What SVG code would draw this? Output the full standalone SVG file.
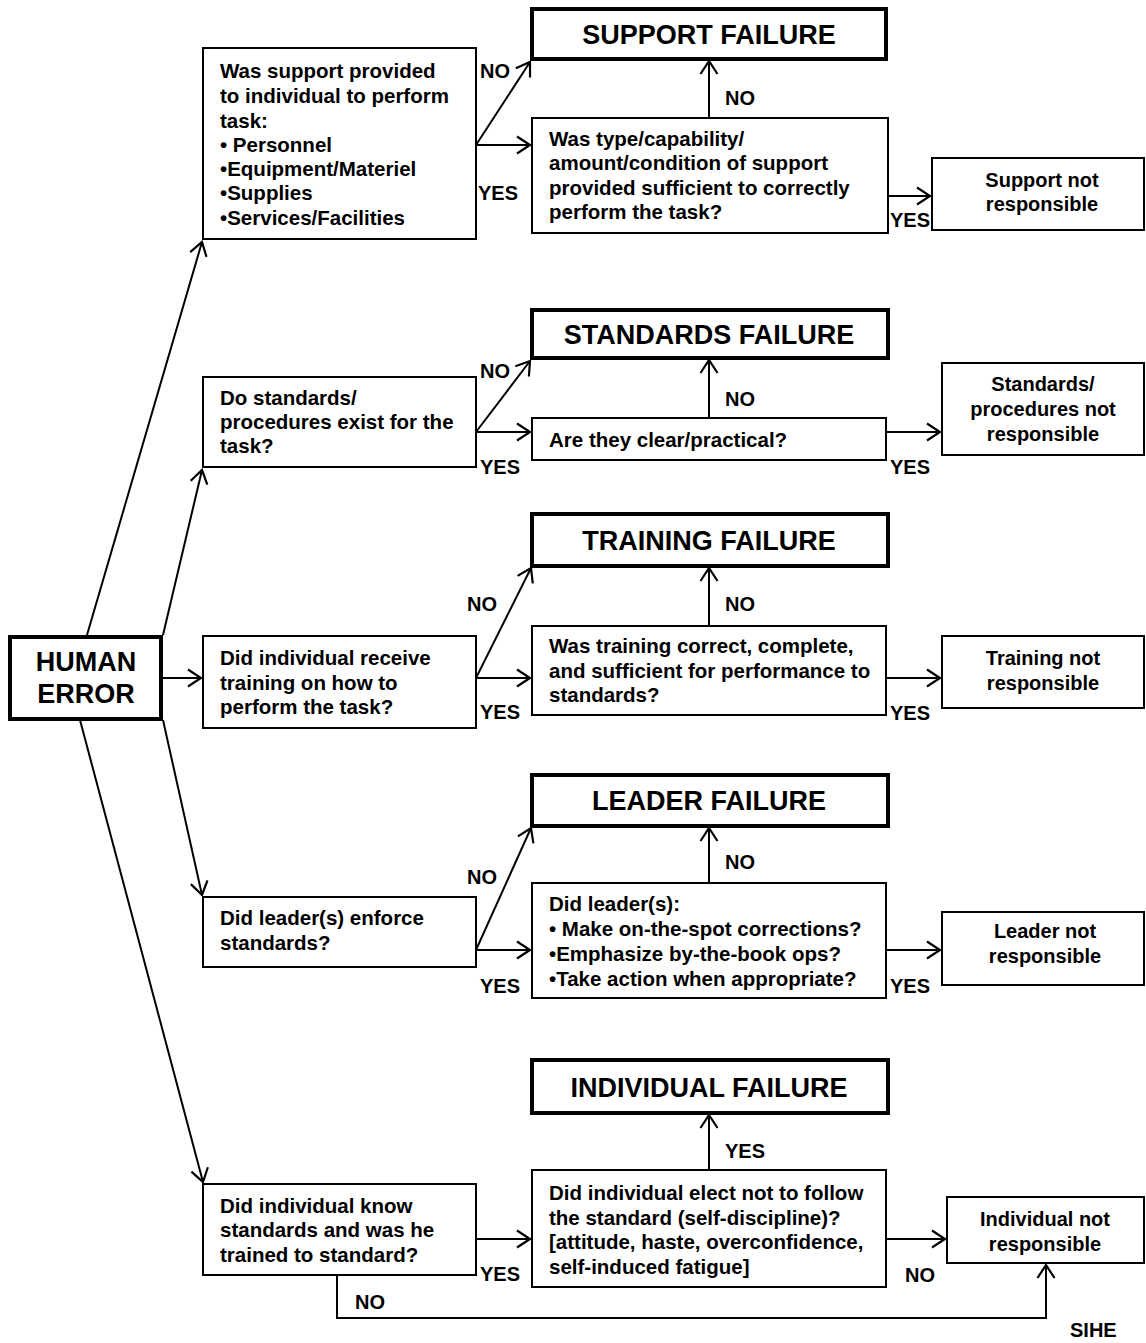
<svg xmlns="http://www.w3.org/2000/svg" width="1146" height="1343" viewBox="0 0 1146 1343">
<style>
text{font-family:"Liberation Sans",Arial,sans-serif;font-weight:bold;fill:#000}
.q{font-size:20.5px}
.lab{font-size:20px}
.t{font-size:27px;text-anchor:middle}
.he{font-size:27px;text-anchor:middle}
.c{text-anchor:middle;font-size:20px}
.box{fill:#fff;stroke:#000;stroke-width:2}
.bold{fill:#fff;stroke:#000;stroke-width:4}
.ln{fill:none;stroke:#000;stroke-width:2;marker-end:url(#ah)}
</style>
<defs>
<marker id="ah" markerUnits="userSpaceOnUse" markerWidth="16" markerHeight="20" refX="14" refY="10" orient="auto">
<path d="M1,1.5 L14,10 L1,18.5" fill="none" stroke="#000" stroke-width="2.2"/>
</marker>
</defs>
<rect width="1146" height="1343" fill="#fff"/>
<g id="connectors">
<line class="ln" x1="87" y1="635" x2="202" y2="242"/>
<line class="ln" x1="163" y1="635" x2="202" y2="470"/>
<line class="ln" x1="162" y1="678" x2="201" y2="678"/>
<line class="ln" x1="163" y1="720" x2="202" y2="895"/>
<line class="ln" x1="80" y1="720" x2="203" y2="1182"/>
<line class="ln" x1="476" y1="145" x2="530" y2="62"/>
<line class="ln" x1="476" y1="145" x2="530" y2="145"/>
<line class="ln" x1="709" y1="118" x2="709" y2="61"/>
<line class="ln" x1="888" y1="196" x2="930" y2="196"/>
<line class="ln" x1="476" y1="432" x2="530" y2="361"/>
<line class="ln" x1="476" y1="432" x2="530" y2="432"/>
<line class="ln" x1="709" y1="418" x2="709" y2="360"/>
<line class="ln" x1="886" y1="432" x2="940" y2="432"/>
<line class="ln" x1="476" y1="678" x2="531" y2="568"/>
<line class="ln" x1="476" y1="678" x2="530" y2="678"/>
<line class="ln" x1="709" y1="626" x2="709" y2="568"/>
<line class="ln" x1="886" y1="678" x2="940" y2="678"/>
<line class="ln" x1="476" y1="950" x2="531" y2="828"/>
<line class="ln" x1="476" y1="950" x2="530" y2="950"/>
<line class="ln" x1="709" y1="883" x2="709" y2="828"/>
<line class="ln" x1="886" y1="950" x2="940" y2="950"/>
<line class="ln" x1="476" y1="1239" x2="530" y2="1239"/>
<line class="ln" x1="709" y1="1170" x2="709" y2="1115"/>
<line class="ln" x1="886" y1="1239" x2="945" y2="1239"/>
<path class="ln" d="M337,1276 V1318 H1046 V1265"/>
</g>
<g id="labels">
<text class="lab" x="480" y="78">NO</text>
<text class="lab" x="478" y="200">YES</text>
<text class="lab" x="725" y="105">NO</text>
<text class="lab" x="890" y="227">YES</text>
<text class="lab" x="480" y="378">NO</text>
<text class="lab" x="480" y="474">YES</text>
<text class="lab" x="725" y="406">NO</text>
<text class="lab" x="890" y="474">YES</text>
<text class="lab" x="467" y="611">NO</text>
<text class="lab" x="480" y="719">YES</text>
<text class="lab" x="725" y="611">NO</text>
<text class="lab" x="890" y="720">YES</text>
<text class="lab" x="467" y="884">NO</text>
<text class="lab" x="480" y="993">YES</text>
<text class="lab" x="725" y="869">NO</text>
<text class="lab" x="890" y="993">YES</text>
<text class="lab" x="480" y="1281">YES</text>
<text class="lab" x="725" y="1158">YES</text>
<text class="lab" x="905" y="1282">NO</text>
<text class="lab" x="355" y="1309">NO</text>
<text class="lab" x="1070" y="1337">SIHE</text>
</g>
<g id="human-error">
<rect class="bold" x="10" y="637" width="151" height="82"/>
<text class="he" x="86" y="671">HUMAN</text>
<text class="he" x="86" y="703">ERROR</text>
</g>
<g id="q1">
<rect class="box" x="203" y="48" width="273" height="191"/>
<text class="q" x="220" y="78">Was support provided</text>
<text class="q" x="220" y="103">to individual to perform</text>
<text class="q" x="220" y="128">task:</text>
<text class="q" x="220" y="152">• Personnel</text>
<text class="q" x="220" y="176">•Equipment/Materiel</text>
<text class="q" x="220" y="200">•Supplies</text>
<text class="q" x="220" y="225">•Services/Facilities</text>
</g>
<g id="support-failure">
<rect class="bold" x="532" y="9" width="354" height="50"/>
<text class="t" x="709" y="44">SUPPORT FAILURE</text>
</g>
<g id="q1b">
<rect class="box" x="532" y="118" width="356" height="115"/>
<text class="q" x="549" y="146">Was type/capability/</text>
<text class="q" x="549" y="170">amount/condition of support</text>
<text class="q" x="549" y="195">provided sufficient to correctly</text>
<text class="q" x="549" y="219">perform the task?</text>
</g>
<g id="support-ok">
<rect class="box" x="932" y="158" width="212" height="72"/>
<text class="c" x="1042" y="187">Support not</text>
<text class="c" x="1042" y="211">responsible</text>
</g>
<g id="standards-failure">
<rect class="bold" x="532" y="310" width="356" height="48"/>
<text class="t" x="709" y="344">STANDARDS FAILURE</text>
</g>
<g id="q2">
<rect class="box" x="203" y="377" width="273" height="90"/>
<text class="q" x="220" y="405">Do standards/</text>
<text class="q" x="220" y="429">procedures exist for the</text>
<text class="q" x="220" y="453">task?</text>
</g>
<g id="q2b">
<rect class="box" x="532" y="418" width="354" height="42"/>
<text class="q" x="549" y="447">Are they clear/practical?</text>
</g>
<g id="standards-ok">
<rect class="box" x="942" y="363" width="202" height="92"/>
<text class="c" x="1043" y="391">Standards/</text>
<text class="c" x="1043" y="416">procedures not</text>
<text class="c" x="1043" y="441">responsible</text>
</g>
<g id="training-failure">
<rect class="bold" x="532" y="514" width="356" height="52"/>
<text class="t" x="709" y="550">TRAINING FAILURE</text>
</g>
<g id="q3">
<rect class="box" x="203" y="636" width="273" height="92"/>
<text class="q" x="220" y="665">Did individual receive</text>
<text class="q" x="220" y="690">training on how to</text>
<text class="q" x="220" y="714">perform the task?</text>
</g>
<g id="q3b">
<rect class="box" x="532" y="626" width="354" height="89"/>
<text class="q" x="549" y="653">Was training correct, complete,</text>
<text class="q" x="549" y="678">and sufficient for performance to</text>
<text class="q" x="549" y="702">standards?</text>
</g>
<g id="training-ok">
<rect class="box" x="942" y="636" width="202" height="72"/>
<text class="c" x="1043" y="665">Training not</text>
<text class="c" x="1043" y="690">responsible</text>
</g>
<g id="leader-failure">
<rect class="bold" x="532" y="775" width="356" height="51"/>
<text class="t" x="709" y="810">LEADER FAILURE</text>
</g>
<g id="q4">
<rect class="box" x="203" y="897" width="273" height="70"/>
<text class="q" x="220" y="925">Did leader(s) enforce</text>
<text class="q" x="220" y="950">standards?</text>
</g>
<g id="q4b">
<rect class="box" x="532" y="883" width="354" height="115"/>
<text class="q" x="549" y="911">Did leader(s):</text>
<text class="q" x="549" y="936">• Make on-the-spot corrections?</text>
<text class="q" x="549" y="961">•Emphasize by-the-book ops?</text>
<text class="q" x="549" y="986">•Take action when appropriate?</text>
</g>
<g id="leader-ok">
<rect class="box" x="942" y="912" width="202" height="73"/>
<text class="c" x="1045" y="938">Leader not</text>
<text class="c" x="1045" y="963">responsible</text>
</g>
<g id="individual-failure">
<rect class="bold" x="532" y="1060" width="356" height="53"/>
<text class="t" x="709" y="1097">INDIVIDUAL FAILURE</text>
</g>
<g id="q5">
<rect class="box" x="203" y="1184" width="273" height="91"/>
<text class="q" x="220" y="1213">Did individual know</text>
<text class="q" x="220" y="1237">standards and was he</text>
<text class="q" x="220" y="1262">trained to standard?</text>
</g>
<g id="q5b">
<rect class="box" x="532" y="1170" width="354" height="117"/>
<text class="q" x="549" y="1200">Did individual elect not to follow</text>
<text class="q" x="549" y="1225">the standard (self-discipline)?</text>
<text class="q" x="549" y="1249">[attitude, haste, overconfidence,</text>
<text class="q" x="549" y="1274">self-induced fatigue]</text>
</g>
<g id="individual-ok">
<rect class="box" x="947" y="1197" width="197" height="66"/>
<text class="c" x="1045" y="1226">Individual not</text>
<text class="c" x="1045" y="1251">responsible</text>
</g>
</svg>
